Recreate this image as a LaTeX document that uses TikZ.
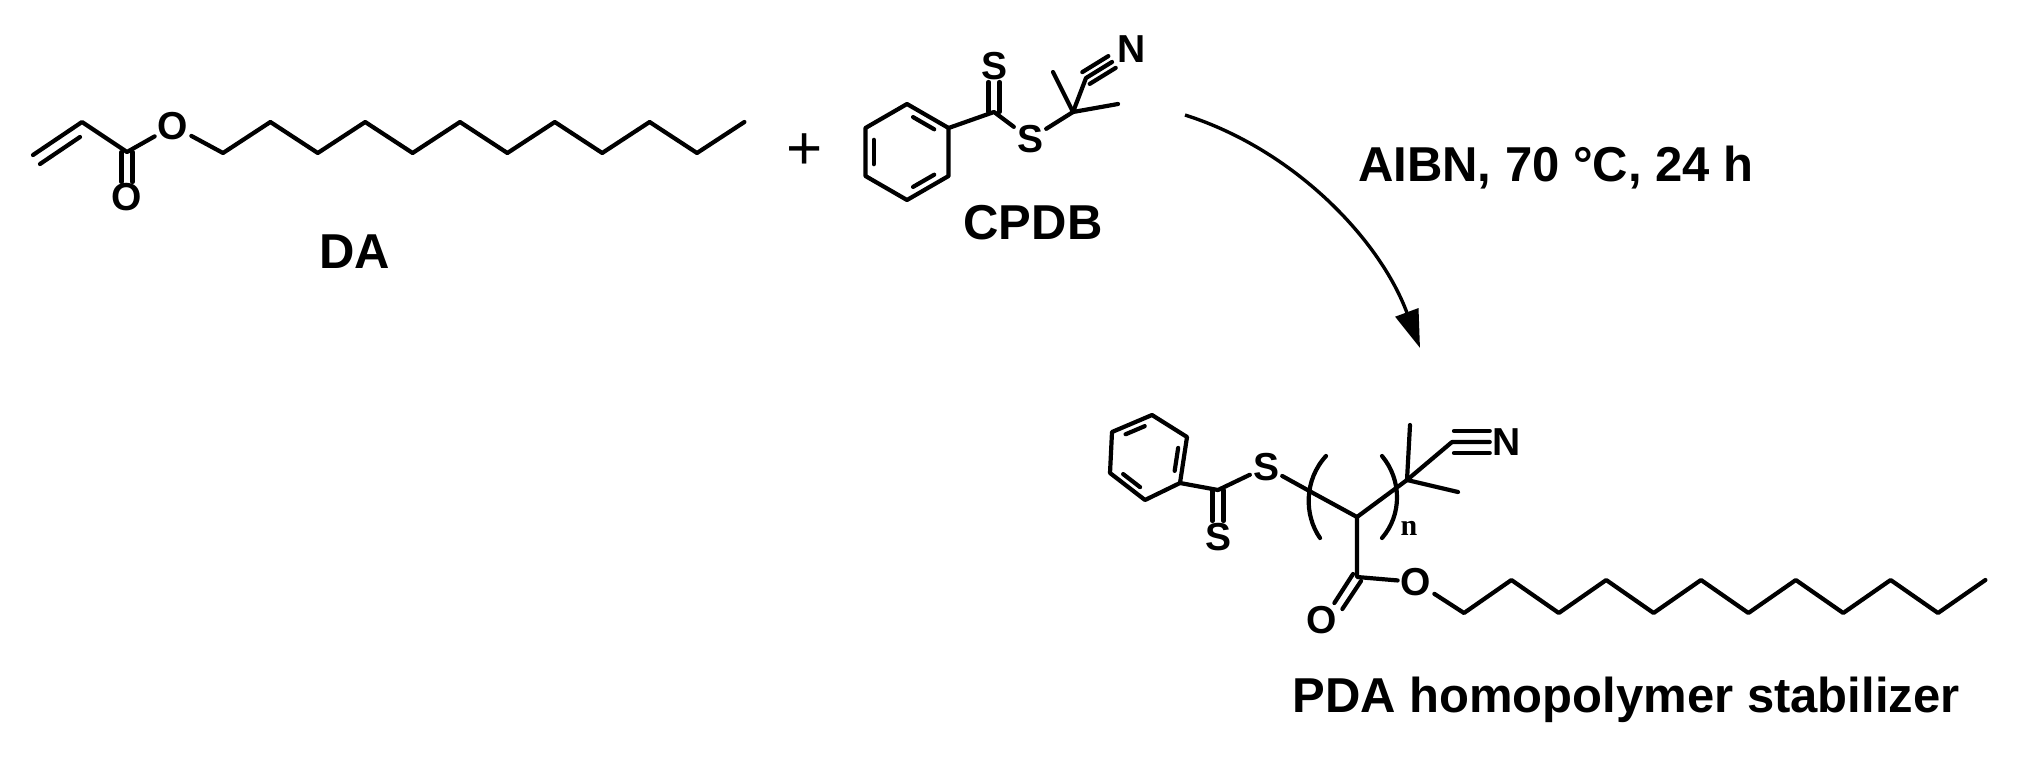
\documentclass[tikz,border=0pt]{standalone}
\usepackage{fontspec}
\setmainfont{Liberation Sans}
\newfontfamily\serifn{Liberation Serif}
\usetikzlibrary{arrows.meta,calc}
\begin{document}
\begin{tikzpicture}[x=1pt,y=-1pt,
  bond/.style={line width=4.2pt,line join=round,line cap=round},
  atom/.style={font=\bfseries\fontsize{39}{39}\selectfont,inner sep=3pt},
  lbl/.style={font=\bfseries\fontsize{49}{49}\selectfont,inner sep=0pt},
  inner/.style={bond,shorten <=7pt,shorten >=7pt}]
\useasboundingbox (0,0) rectangle (2026,771);
\fill[white] (0,0) rectangle (2026,771);
% ---------------- DA ----------------
\coordinate (d1) at (33,155); \coordinate (d2) at (82,122); \coordinate (d3) at (127,152);
\node[atom] (dO1) at (127,197) {O};
\node[atom] (dO2) at (173,126) {O};
\draw[bond] (d1) -- (d2) -- (d3) -- (dO2);
\draw[bond] ($(d1)+(7,9)$) -- ($(d2)+(-2,15)$);
\draw[bond] ($(d3)+(-5.5,0)$) -- ($(dO1.north)+(-5.5,2)$);
\draw[bond] ($(d3)+(5.5,0)$) -- ($(dO1.north)+(5.5,2)$);
\foreach \i in {1,...,12}{
  \pgfmathsetmacro{\xx}{223+47.4*(\i-1)}
  \pgfmathsetmacro{\yy}{isodd(\i)?153:122}
  \coordinate (c\i) at (\xx,\yy);}
\draw[bond] (dO2) -- (c1) -- (c2) -- (c3) -- (c4) -- (c5) -- (c6) -- (c7) -- (c8) -- (c9) -- (c10) -- (c11) -- (c12);
\node[lbl] (DA) at (355,252) {DA};
% plus
\node[font=\fontsize{62}{62}\selectfont,inner sep=0pt] (plus) at (805,152) {+};
% ---------------- CPDB ----------------
\coordinate (bc) at (907,152);
\foreach \n/\a in {1/90,2/30,3/-30,4/-90,5/-150,6/150}{
  \coordinate (b\n) at ($(bc)+({48*cos(\a)},{-48*sin(\a)})$);}
\draw[bond] (b1)--(b2)--(b3)--(b4)--(b5)--(b6)--cycle;
\draw[inner] ($(b1)!.2!(bc)$) -- ($(b2)!.2!(bc)$);
\draw[inner] ($(b3)!.2!(bc)$) -- ($(b4)!.2!(bc)$);
\draw[inner] ($(b5)!.2!(bc)$) -- ($(b6)!.2!(bc)$);
\coordinate (cs) at (994,112);
\node[atom] (sT) at (994,66) {S};
\node[atom] (sS) at (1030,139) {S};
\coordinate (cq) at (1073,112);
\coordinate (me1) at (1053,72);
\coordinate (me2) at (1118,104);
\coordinate (cn1) at (1086,78);
\coordinate (cn2) at (1112,62);
\node[atom] (nN) at (1132,49) {N};
\draw[bond] (b2) -- (cs) -- (sS) -- (cq) -- (me1);
\draw[bond] (cq) -- (me2);
\draw[bond] ($(cs)+(-5.5,0)$) -- ($(sT.south)+(-5.5,-1)$);
\draw[bond] ($(cs)+(5.5,0)$) -- ($(sT.south)+(5.5,-1)$);
\draw[bond] (cq) -- (cn1) -- (cn2);
\draw[bond] ($(cn1)+(-3.7,-5.9)$) -- ($(cn2)+(-3.7,-5.9)$);
\draw[bond] ($(cn1)+(3.7,5.9)$) -- ($(cn2)+(3.7,5.9)$);
\node[lbl] (CPDB) at (1033,223) {CPDB};
% ---------------- arrow ----------------
\coordinate (aS) at (1185,115);
\coordinate (aE) at (1420,348);
\draw[line width=3.4pt,-{Triangle[length=38pt,width=24pt]}] (aS) .. controls (1295,150) and (1380,240) .. (aE);
\node[lbl,anchor=west] (cond) at (1358,168) {AIBN, 70 °C, 24 h};
% ---------------- product ----------------
\coordinate (p1) at (1152,415); \coordinate (p2) at (1187,437); \coordinate (p3) at (1180,483);
\coordinate (p4) at (1145,500); \coordinate (p5) at (1110,473); \coordinate (p6) at (1112,432);
\coordinate (pc0) at (1148,457);
\draw[bond] (p1)--(p2)--(p3)--(p4)--(p5)--(p6)--cycle;
\draw[inner] ($(p6)!.2!(pc0)$) -- ($(p1)!.2!(pc0)$);
\draw[inner] ($(p2)!.2!(pc0)$) -- ($(p3)!.2!(pc0)$);
\draw[inner] ($(p4)!.2!(pc0)$) -- ($(p5)!.2!(pc0)$);
\coordinate (pc) at (1218,490);
\node[atom] (pS2) at (1218,537) {S};
\node[atom] (pS1) at (1266,467) {S};
\coordinate (pm1) at (1313,493);
\coordinate (pm2) at (1357,517);
\coordinate (pq) at (1407,480);
\draw[bond] (p3) -- (pc) -- (pS1) -- (pm1) -- (pm2) -- (pq);
\draw[bond] ($(pc)+(-5.5,0)$) -- ($(pS2.north)+(-5.5,1)$);
\draw[bond] ($(pc)+(5.5,0)$) -- ($(pS2.north)+(5.5,1)$);
% brackets
\coordinate (lb1) at (1326,456); \coordinate (lb2) at (1320,538);
\coordinate (rb1) at (1382,456); \coordinate (rb2) at (1382,538);
\draw[bond] (lb1) .. controls (1304,480) and (1304,515) .. (lb2);
\draw[bond] (rb1) .. controls (1402,480) and (1402,515) .. (rb2);
\node[font=\serifn\bfseries\fontsize{30}{30}\selectfont,inner sep=0pt] (nlab) at (1409,528) {n};
% end group
\coordinate (pme1) at (1410,425);
\coordinate (pme2) at (1458,492);
\coordinate (pcn) at (1452,442);
\node[atom] (pN) at (1507,442) {N};
\draw[bond] (pq) -- (pme1);
\draw[bond] (pq) -- (pme2);
\draw[bond] (pq) -- (pcn) -- (pN);
\draw[bond] ($(pcn)+(2,-11)$) -- ($(pN.west)+(0,-11)$);
\draw[bond] ($(pcn)+(2,11)$) -- ($(pN.west)+(0,11)$);
% ester
\coordinate (pcc) at (1357,577);
\node[atom] (pO1) at (1416,582) {O};
\node[atom] (pO2) at (1322,620) {O};
\draw[bond] (pm2) -- (pcc) -- (pO1);
\draw[bond] ($(pcc)+(-4,-3)$) -- ($(pO2.north east)+(-6,0)$);
\draw[bond] ($(pcc)+(4,4)$) -- ($(pO2.north east)+(2,6)$);
\foreach \i in {1,...,12}{
  \pgfmathsetmacro{\xx}{1464+47.4*(\i-1)}
  \pgfmathsetmacro{\yy}{isodd(\i)?613:580}
  \coordinate (q\i) at (\xx,\yy);}
\draw[bond] (pO1) -- (q1) -- (q2) -- (q3) -- (q4) -- (q5) -- (q6) -- (q7) -- (q8) -- (q9) -- (q10) -- (q11) -- (q12);
\node[lbl] (PDA) at (1626,700) {PDA homopolymer stabilizer};
\end{tikzpicture}
\end{document}
